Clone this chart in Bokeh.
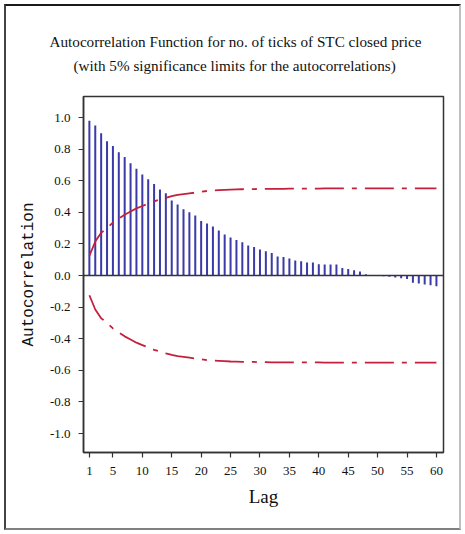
from bokeh.plotting import figure
from bokeh.layouts import column
from bokeh.models import Range1d, FixedTicker, Span, Title
from bokeh.embed import file_html
from bokeh.resources import INLINE

# ---- data ----
lags = list(range(1, 61))
acf = [0.98, 0.95, 0.90, 0.85, 0.82, 0.78, 0.75, 0.71, 0.675, 0.64,
       0.61, 0.58, 0.545, 0.52, 0.475, 0.45, 0.42, 0.40, 0.38, 0.345,
       0.33, 0.31, 0.285, 0.26, 0.24, 0.225, 0.21, 0.19, 0.18, 0.165,
       0.153, 0.142, 0.12, 0.117, 0.108, 0.095, 0.09, 0.083, 0.083, 0.072,
       0.07, 0.07, 0.07, 0.047, 0.042, 0.034, 0.025, 0.008, 0.004, 0.0,
       -0.004, -0.008, -0.012, -0.018, -0.022, -0.045, -0.05, -0.056, -0.062, -0.068]
upper_limit = [0.125, 0.215, 0.27, 0.30, 0.335, 0.36, 0.385, 0.405, 0.425, 0.44,
               0.455, 0.47, 0.48, 0.492, 0.502, 0.51, 0.515, 0.52, 0.525, 0.53,
               0.535, 0.538, 0.54, 0.542, 0.544, 0.545, 0.546, 0.547, 0.547, 0.548,
               0.548, 0.549, 0.549, 0.549, 0.55, 0.55, 0.55, 0.55, 0.55, 0.55,
               0.551, 0.551, 0.551, 0.551, 0.551, 0.551, 0.551, 0.551, 0.551, 0.551,
               0.551, 0.551, 0.551, 0.551, 0.551, 0.551, 0.551, 0.551, 0.551, 0.551]
lower_limit = [-v for v in upper_limit]

x_ticks = [1, 5, 10, 15, 20, 25, 30, 35, 40, 45, 50, 55, 60]
y_ticks = [1.0, 0.8, 0.6, 0.4, 0.2, 0.0, -0.2, -0.4, -0.6, -0.8, -1.0]
y_tick_labels = ["1.0", "0.8", "0.6", "0.4", "0.2", "0.0",
                 "-0.2", "-0.4", "-0.6", "-0.8", "-1.0"]

title_line1 = "Autocorrelation Function for no. of ticks of STC closed price"
title_line2 = "(with 5% significance limits for the autocorrelations)"
x_label = "Lag"
y_label = "Autocorrelation"

SERIF = "Liberation Serif"
PAD = 6                       # margin + frame border around the figure
W, H = 465 - 2 * PAD, 534 - 2 * PAD
FL, FR, FT, FB = 83 - PAD, 443 - PAD, 96 - PAD, 452 - PAD   # plot frame in figure pixels

fig = figure(width=W, height=H, output_backend="svg", toolbar_location=None,
             x_range=Range1d(0, 61.2), y_range=Range1d(-1.12, 1.133),
             min_border_left=FL, min_border_right=W - FR,
             min_border_top=FT, min_border_bottom=H - FB)

fig.background_fill_color = "white"
fig.border_fill_color = "white"
fig.grid.visible = False
fig.outline_line_color = "#333333"
fig.outline_line_width = 1.5

# bars
fig.segment(x0=lags, y0=[0] * len(lags), x1=lags, y1=acf,
            line_color="#3a3aa8", line_width=2)

# zero line
fig.add_layout(Span(location=0, dimension="width", line_color="#333344",
                    line_width=1.5))

# significance limits
for lim in (upper_limit, lower_limit):
    fig.line(lags, lim, line_color="#c4203c", line_width=1.8,
             line_dash="29 8 5 8")

# axes
for ax in (fig.xaxis, fig.yaxis):
    ax.axis_line_color = "#333333"
    ax.axis_line_width = 1.5
    ax.major_tick_line_color = "#333333"
    ax.major_tick_line_width = 1.2
    ax.major_tick_out = 5
    ax.major_tick_in = 0
    ax.minor_tick_line_color = None
    ax.major_label_text_font = SERIF
    ax.major_label_text_font_size = "13px"
    ax.major_label_text_color = "#111111"

fig.xaxis.ticker = FixedTicker(ticks=x_ticks)
fig.xaxis.major_label_standoff = 9
fig.xaxis.axis_label = x_label
fig.xaxis.axis_label_text_font = SERIF
fig.xaxis.axis_label_text_font_size = "19px"
fig.xaxis.axis_label_text_font_style = "normal"
fig.xaxis.axis_label_text_color = "#111111"
fig.xaxis.axis_label_standoff = 8

fig.yaxis.ticker = FixedTicker(ticks=y_ticks)
fig.yaxis.major_label_overrides = {t: s for t, s in zip(y_ticks, y_tick_labels)}
fig.yaxis.major_label_standoff = 8
fig.yaxis.axis_label = y_label
fig.yaxis.axis_label_text_font = "Liberation Mono"
fig.yaxis.axis_label_text_font_size = "16px"
fig.yaxis.axis_label_text_font_style = "normal"
fig.yaxis.axis_label_text_color = "#111111"
fig.yaxis.axis_label_standoff = 9

# spacer between frame and title, then the two title lines (nearest-first)
fig.add_layout(Title(text=" ", text_font_size="1px", standoff=15), "above")
fig.add_layout(Title(text=title_line2, align="left", offset=-10,
                     text_font=SERIF, text_font_size="15.2px",
                     text_font_style="normal", text_color="#111111",
                     standoff=10), "above")
fig.add_layout(Title(text=title_line1, align="left", offset=-34,
                     text_font=SERIF, text_font_size="15.2px",
                     text_font_style="normal", text_color="#111111",
                     standoff=0), "above")

# page with the outer picture frame
p = column(fig, styles={"border-style": "solid", "border-width": "2px",
                        "border-color": "#1a1a1a #c0c0c0 #808080 #444444",
                        "margin": "4px"})

open("out.html", "w").write(file_html(p, INLINE))
